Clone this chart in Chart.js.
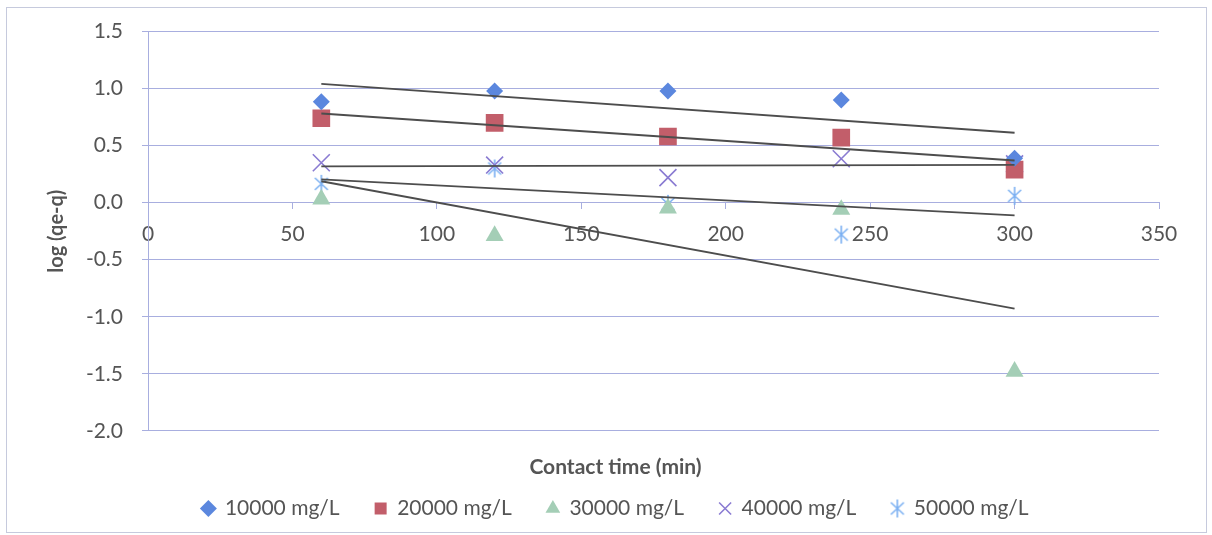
<!DOCTYPE html>
<html>
<head>
<meta charset="utf-8">
<script src="https://cdn.jsdelivr.net/npm/chart.js@4/dist/chart.umd.min.js"></script>
<style>
html,body{margin:0;padding:0;background:#fff;}
#c{display:block;}
</style>
</head>
<body>
<canvas id="c" width="1212" height="535"></canvas>
<script>
// ---- data ----
const times = [60, 120, 180, 240, 300];
const seriesNames = ['10000 mg/L', '20000 mg/L', '30000 mg/L', '40000 mg/L', '50000 mg/L'];
const s10000 = [0.885, 0.98, 0.98, 0.90, 0.39];
const s20000 = [0.74, 0.70, 0.58, 0.57, 0.29];
const s30000 = [0.03, -0.29, -0.05, -0.06, -1.48];
const s40000 = [0.35, 0.33, 0.22, 0.385, 0.34];
const s50000 = [0.165, 0.30, -0.01, -0.28, 0.06];
const xTicks = [0, 50, 100, 150, 200, 250, 300, 350];
const yTicks = [-2.0, -1.5, -1.0, -0.5, 0.0, 0.5, 1.0, 1.5];
const xTitle = 'Contact time (min)';
const yTitle = 'log (qe-q)';

// ---- styles ----
const FONT = 'Lato, "Open Sans", sans-serif';
const TXT = '#555555';
const GRID = '#a8aedf';
const TREND = '#4d4d4d';
const colors = ['#5b87de', '#c25e6a', '#a4ceb6', '#8a7bd2', '#7bb0f2'];

function asteriskImg(color) {
  const c = document.createElement('canvas');
  c.width = 18; c.height = 20;
  const g = c.getContext('2d');
  g.strokeStyle = color; g.lineWidth = 1.6; g.lineCap = 'butt';
  g.beginPath();
  g.moveTo(2.5, 4); g.lineTo(15.5, 16);
  g.moveTo(15.5, 4); g.lineTo(2.5, 16);
  g.moveTo(9, 1); g.lineTo(9, 19);
  g.stroke();
  return c;
}

// least-squares linear trendline (as Excel's) from the data itself
function trend(xs, ys) {
  const n = xs.length;
  const mx = xs.reduce((a, b) => a + b, 0) / n;
  const my = ys.reduce((a, b) => a + b, 0) / n;
  let sxy = 0, sxx = 0;
  for (let i = 0; i < n; i++) { sxy += (xs[i] - mx) * (ys[i] - my); sxx += (xs[i] - mx) ** 2; }
  const b = sxy / sxx, a = my - b * mx;
  const x0 = xs[0], x1 = xs[n - 1];
  return [{x: x0, y: a + b * x0}, {x: x1, y: a + b * x1}];
}
const pts = ys => times.map((t, i) => ({x: t, y: ys[i]}));

const allSeries = [s10000, s20000, s30000, s40000, s50000];
const styles = [
  {pointStyle: 'rectRot', pointRadius: 8.5},
  {pointStyle: 'rect', pointRadius: 12.5},
  {pointStyle: 'triangle', pointRadius: 10.4},
  {pointStyle: 'crossRot', pointRadius: 12},
  {pointStyle: asteriskImg(colors[4]), pointRadius: 9}
];

const datasets = [];
allSeries.forEach((ys, i) => {
  datasets.push(Object.assign({
    label: seriesNames[i],
    type: 'scatter',
    data: pts(ys),
    backgroundColor: colors[i],
    borderColor: colors[i],
    borderWidth: (i === 3) ? 1.6 : 0,
    showLine: false,
    order: 2,
    isSeries: true
  }, styles[i]));
});
allSeries.forEach((ys, i) => {
  datasets.push({
    label: 'trend ' + seriesNames[i],
    type: 'line',
    data: trend(times, ys),
    borderColor: TREND,
    borderWidth: 1.8,
    pointRadius: 0,
    fill: false,
    order: 1,
    isSeries: false
  });
});

const frame = {
  id: 'frame',
  beforeDraw(chart) {
    const ctx = chart.ctx;
    ctx.save();
    ctx.fillStyle = '#fff';
    ctx.fillRect(0, 0, chart.width, chart.height);
    ctx.strokeStyle = '#c6cadd';
    ctx.lineWidth = 1;
    ctx.strokeRect(6.5, 7.5, 1200, 525);
    ctx.restore();
  }
};

const L = 72;
new Chart(document.getElementById('c'), {
  type: 'scatter',
  data: {datasets},
  plugins: [frame],
  options: {
    responsive: false,
    animation: false,
    devicePixelRatio: 1,
    layout: {padding: {left: L, right: 53, top: 29, bottom: 6}},
    scales: {
      x: {
        type: 'linear',
        position: {y: 0},
        min: 0, max: 350,
        afterBuildTicks: s => { s.ticks = xTicks.map(v => ({value: v})); },
        ticks: {color: TXT, font: {family: FONT, size: 21}, padding: 13},
        grid: {drawOnChartArea: false, drawTicks: true, tickLength: 6, color: GRID},
        border: {display: true, color: GRID, width: 1}
      },
      y: {
        type: 'linear',
        min: -2, max: 1.5,
        afterBuildTicks: s => { s.ticks = yTicks.map(v => ({value: v})); },
        afterFit: s => { s.width = 148 - L; },
        ticks: {color: TXT, font: {family: FONT, size: 21}, padding: 19,
                callback: v => Number(v).toFixed(1)},
        grid: {color: GRID, lineWidth: 1, tickLength: 6},
        border: {display: true, color: GRID, width: 1},
        title: {display: true, text: yTitle, color: TXT,
                font: {family: FONT, size: 20, weight: 'bold'},
                padding: {top: -27, bottom: 0}}
      }
    },
    plugins: {
      tooltip: {enabled: false},
      title: {
        display: true, position: 'bottom', weight: 500,
        text: xTitle, color: TXT,
        font: {family: FONT, size: 21, weight: 'bold'},
        padding: {top: 24, bottom: -17}
      },
      legend: {
        position: 'bottom',
        labels: {
          usePointStyle: true,
          boxWidth: 12,
          boxHeight: 12,
          padding: 35,
          color: TXT,
          font: {family: FONT, size: 21},
          filter: (item, data) => data.datasets[item.datasetIndex].isSeries
        }
      }
    }
  }
});
</script>
</body>
</html>
